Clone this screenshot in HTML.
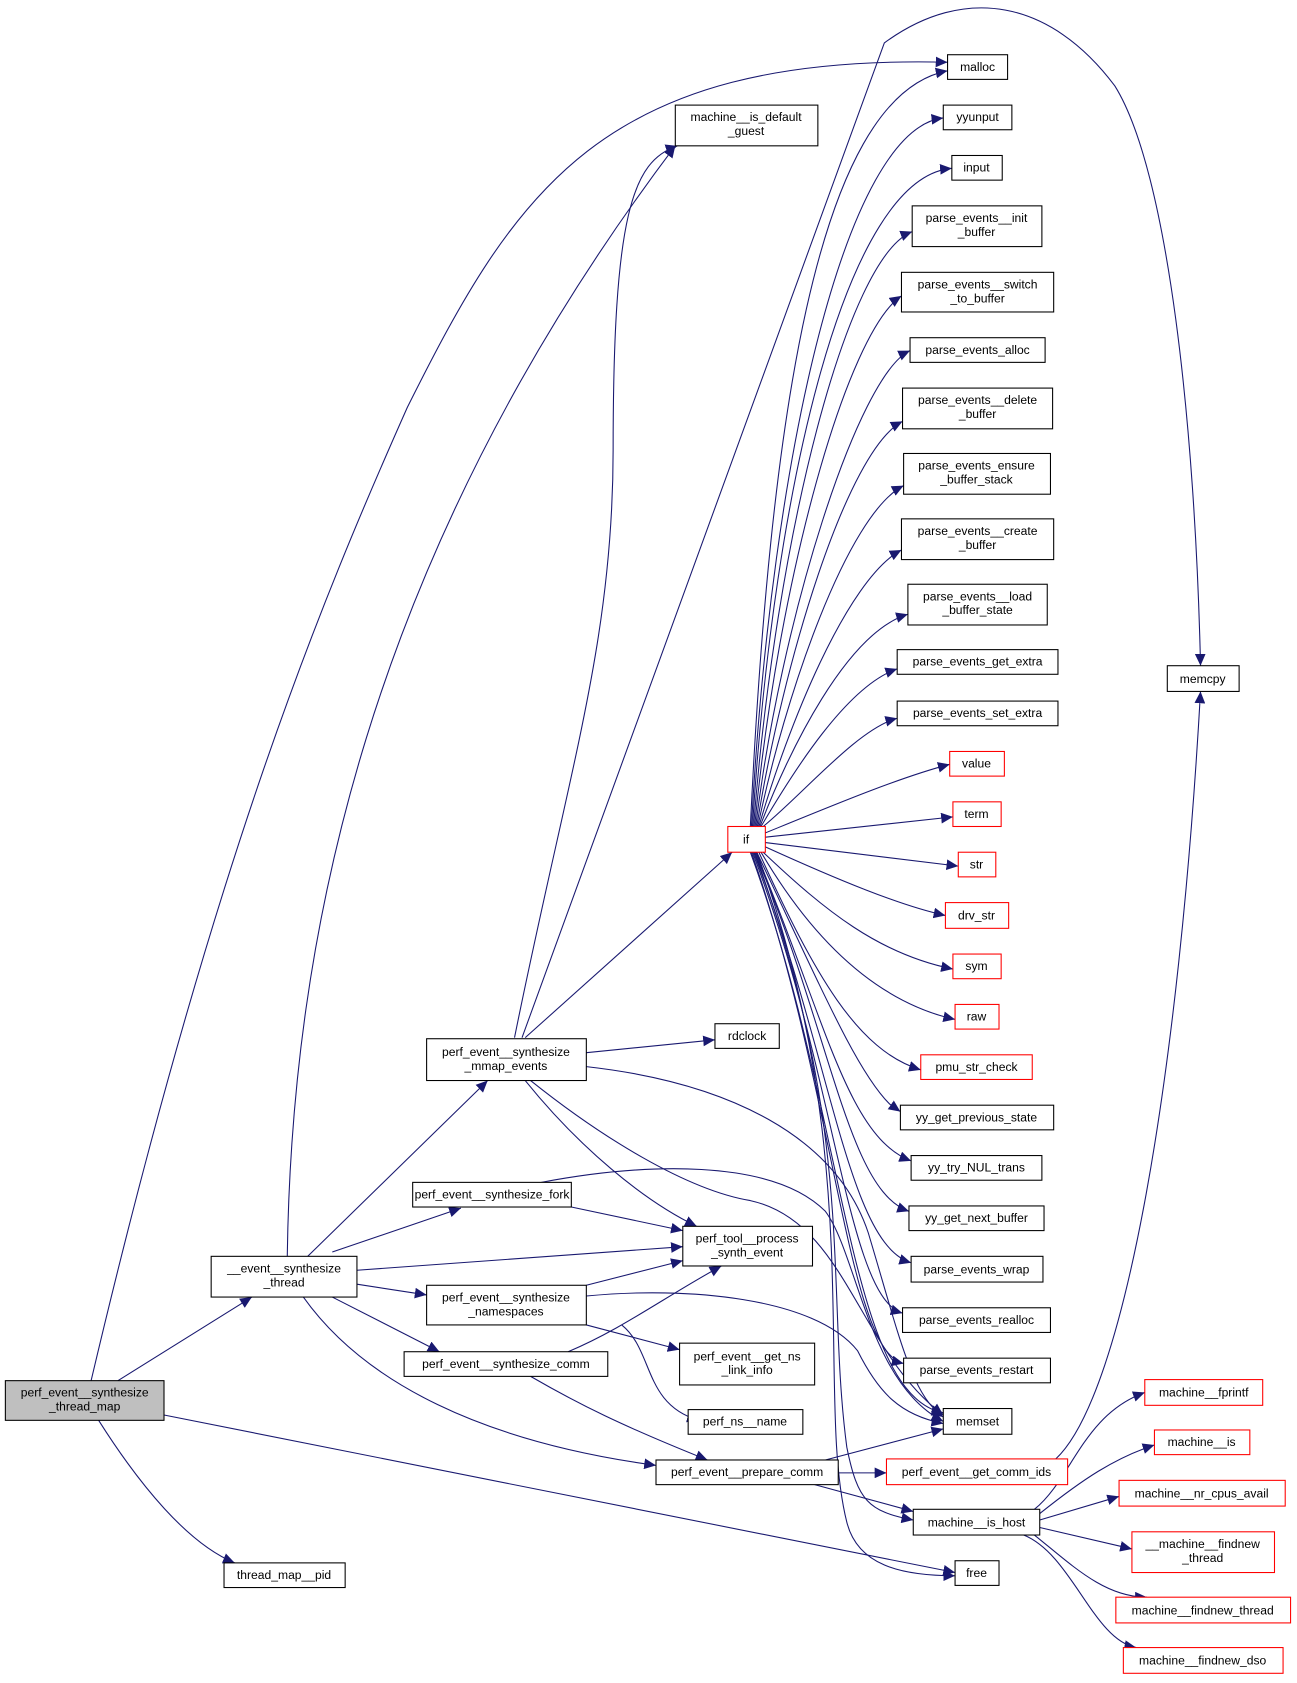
<!DOCTYPE html>
<html><head><meta charset="utf-8"><style>
html,body{margin:0;padding:0;background:#fff;}
svg{display:block;}
text{font-family:"Liberation Sans",Arial,sans-serif;font-size:11.3px;fill:#000;text-anchor:middle;}
.n{fill:#fff;stroke:#000;stroke-width:1;}
.r{fill:#fff;stroke:#ff0000;stroke-width:1;}
.g{fill:#bfbfbf;stroke:#000;stroke-width:1;}
.e{fill:none;stroke:#191970;stroke-width:1;marker-end:url(#a);}
</style></head><body>
<svg width="1297" height="1683" viewBox="0 0 1210 1570" xmlns="http://www.w3.org/2000/svg">
<defs><marker id="a" markerUnits="userSpaceOnUse" markerWidth="12" markerHeight="10" refX="11" refY="5" orient="auto"><path d="M0,0 L11,5 L0,10 Z" fill="#191970"/></marker></defs>

<!-- edges -->
<path class="e" d="M85,1288 C200,800 300,560 380,380 C480,180 560,50 884,58"/>
<path class="e" d="M110,1288 L235,1210"/>
<path class="e" d="M92,1325 C130,1385 175,1440 219,1458"/>
<path class="e" d="M153,1320 L891,1467"/>
<path class="e" d="M268,1172 C272,880 340,520 630,136"/>
<path class="e" d="M287,1172 L455,1008"/>
<path class="e" d="M310,1168 L430,1127"/>
<path class="e" d="M333,1185 L637,1163"/>
<path class="e" d="M333,1198 L398,1208"/>
<path class="e" d="M310,1210 L410,1261"/>
<path class="e" d="M283,1210 C340,1290 450,1345 612,1367"/>
<path class="e" d="M480,968 C530,720 572,600 572,420 C572,200 590,150 632,136"/>
<path class="e" d="M487,968 L825,40 C900,-15 980,0 1040,80 C1090,160 1115,400 1120,621"/>
<path class="e" d="M490,968 L683,795"/>
<path class="e" d="M547,982 L667,970"/>
<path class="e" d="M547,995 C680,1010 780,1060 810,1150 C840,1250 850,1300 880,1322"/>
<path class="e" d="M490,1008 C540,1070 600,1120 650,1144"/>
<path class="e" d="M495,1008 C560,1060 640,1110 700,1120 C790,1140 800,1260 880,1320"/>
<path class="e" d="M505,1103 C600,1085 720,1080 770,1130 C800,1170 810,1290 880,1326"/>
<path class="e" d="M533,1126 L637,1148"/>
<path class="e" d="M547,1209 C640,1200 760,1210 800,1260 C820,1300 840,1320 880,1328"/>
<path class="e" d="M547,1199 L637,1176"/>
<path class="e" d="M547,1236 L634,1259"/>
<path class="e" d="M580,1236 C610,1260 600,1310 652,1325"/>
<path class="e" d="M530,1261 C580,1240 620,1210 673,1181"/>
<path class="e" d="M495,1284 C540,1310 580,1330 660,1362"/>
<path class="e" d="M782,1374 L827,1374"/>
<path class="e" d="M770,1362 L880,1333"/>
<path class="e" d="M760,1385 L852,1410"/>
<path class="e" d="M985,1361 C1050,1300 1100,1000 1120,645"/>
<!-- machine__is_host fanout -->
<path class="e" d="M965,1408 C1000,1380 1010,1320 1068,1299"/>
<path class="e" d="M970,1412 C1010,1380 1040,1360 1077,1348"/>
<path class="e" d="M970,1418 L1044,1396"/>
<path class="e" d="M970,1425 L1056,1445"/>
<path class="e" d="M965,1432 C1000,1460 1030,1490 1070,1490"/>
<path class="e" d="M955,1432 C1000,1450 1020,1530 1060,1537"/>
<!-- if fan-out upward -->
<path class="e" d="M700,771 C718,400 760,90 884,66"/>
<path class="e" d="M701,771 C720,420 790,120 880,110"/>
<path class="e" d="M702,771 C722,450 790,165 888,157"/>
<path class="e" d="M703,771 C724,500 790,240 851,216"/>
<path class="e" d="M704,771 C726,540 790,310 841,276"/>
<path class="e" d="M705,771 C728,580 800,350 849,327"/>
<path class="e" d="M706,771 C730,620 790,420 842,393"/>
<path class="e" d="M707,771 C732,650 790,480 843,453"/>
<path class="e" d="M708,771 C734,680 790,540 841,513"/>
<path class="e" d="M709,771 C736,700 790,590 847,573"/>
<path class="e" d="M710,771 C740,720 790,640 837,624"/>
<path class="e" d="M712,771 C750,740 800,680 837,670"/>
<path class="e" d="M714,777 C780,750 840,725 886,713"/>
<path class="e" d="M714,781 L889,762"/>
<path class="e" d="M714,786 L894,808"/>
<path class="e" d="M714,790 C780,820 840,845 882,854"/>
<path class="e" d="M712,795 C770,850 820,890 889,904"/>
<path class="e" d="M710,795 C760,880 820,935 891,951"/>
<path class="e" d="M708,795 C760,910 800,980 859,998"/>
<path class="e" d="M706,795 C770,930 800,1000 830,1030 L840,1037"/>
<path class="e" d="M705,795 C770,950 790,1060 850,1083"/>
<path class="e" d="M704,795 C775,960 790,1110 848,1130"/>
<path class="e" d="M703,795 C775,980 790,1160 850,1178"/>
<path class="e" d="M702,795 C780,1000 790,1210 842,1225"/>
<path class="e" d="M701,795 C780,1020 790,1260 843,1272"/>
<path class="e" d="M700,795 C790,1040 790,1300 880,1318"/>
<path class="e" d="M704,795 C800,1060 770,1200 790,1350 C800,1400 810,1410 852,1418"/>
<path class="e" d="M706,795 C810,1080 760,1300 790,1420 C800,1460 840,1470 891,1470"/>

<!-- nodes -->
<rect class="g" x="5" y="1288" width="148" height="37"/><text x="79" y="1303">perf_event__synthesize</text><text x="79" y="1316">_thread_map</text>
<rect class="n" x="209" y="1458" width="113" height="23"/><text x="265" y="1473">thread_map__pid</text>
<rect class="n" x="197" y="1172" width="136" height="38"/><text x="265" y="1187">__event__synthesize</text><text x="265" y="1200">_thread</text>
<rect class="n" x="398" y="969" width="149" height="39"/><text x="472" y="985">perf_event__synthesize</text><text x="472" y="998">_mmap_events</text>
<rect class="n" x="385" y="1103" width="148" height="23"/><text x="459" y="1118">perf_event__synthesize_fork</text>
<rect class="n" x="398" y="1199" width="149" height="37"/><text x="472" y="1214">perf_event__synthesize</text><text x="472" y="1227">_namespaces</text>
<rect class="n" x="377" y="1261" width="190" height="23"/><text x="472" y="1276">perf_event__synthesize_comm</text>
<rect class="n" x="612" y="1362" width="170" height="23"/><text x="697" y="1377">perf_event__prepare_comm</text>
<rect class="n" x="637" y="1144" width="121" height="37"/><text x="697" y="1159">perf_tool__process</text><text x="697" y="1172">_synth_event</text>
<rect class="n" x="634" y="1253" width="126" height="39"/><text x="697" y="1269">perf_event__get_ns</text><text x="697" y="1282">_link_info</text>
<rect class="n" x="642" y="1315" width="107" height="23"/><text x="695" y="1330">perf_ns__name</text>
<rect class="n" x="667" y="955" width="60" height="23"/><text x="697" y="970">rdclock</text>
<rect class="n" x="630" y="98" width="133" height="38"/><text x="696" y="113">machine__is_default</text><text x="696" y="126">_guest</text>
<rect class="r" x="679" y="771" width="35" height="24"/><text x="696" y="787">if</text>
<rect class="n" x="884" y="51" width="56" height="23"/><text x="912" y="66">malloc</text>
<rect class="n" x="880" y="98" width="64" height="23"/><text x="912" y="113">yyunput</text>
<rect class="n" x="888" y="145" width="47" height="23"/><text x="911" y="160">input</text>
<rect class="n" x="851" y="192" width="121" height="38"/><text x="911" y="207">parse_events__init</text><text x="911" y="220">_buffer</text>
<rect class="n" x="841" y="254" width="142" height="37"/><text x="912" y="269">parse_events__switch</text><text x="912" y="282">_to_buffer</text>
<rect class="n" x="849" y="315" width="126" height="23"/><text x="912" y="330">parse_events_alloc</text>
<rect class="n" x="842" y="362" width="140" height="38"/><text x="912" y="377">parse_events__delete</text><text x="912" y="390">_buffer</text>
<rect class="n" x="843" y="423" width="137" height="38"/><text x="911" y="438">parse_events_ensure</text><text x="911" y="451">_buffer_stack</text>
<rect class="n" x="841" y="484" width="142" height="38"/><text x="912" y="499">parse_events__create</text><text x="912" y="512">_buffer</text>
<rect class="n" x="847" y="545" width="130" height="38"/><text x="912" y="560">parse_events__load</text><text x="912" y="573">_buffer_state</text>
<rect class="n" x="837" y="606" width="150" height="23"/><text x="912" y="621">parse_events_get_extra</text>
<rect class="n" x="837" y="654" width="150" height="23"/><text x="912" y="669">parse_events_set_extra</text>
<rect class="r" x="886" y="701" width="51" height="23"/><text x="911" y="716">value</text>
<rect class="r" x="889" y="748" width="45" height="23"/><text x="911" y="763">term</text>
<rect class="r" x="894" y="795" width="35" height="23"/><text x="911" y="810">str</text>
<rect class="r" x="882" y="842" width="59" height="24"/><text x="911" y="858">drv_str</text>
<rect class="r" x="889" y="890" width="45" height="23"/><text x="911" y="905">sym</text>
<rect class="r" x="891" y="937" width="41" height="23"/><text x="911" y="952">raw</text>
<rect class="r" x="859" y="984" width="104" height="23"/><text x="911" y="999">pmu_str_check</text>
<rect class="n" x="840" y="1031" width="143" height="23"/><text x="911" y="1046">yy_get_previous_state</text>
<rect class="n" x="850" y="1078" width="122" height="23"/><text x="911" y="1093">yy_try_NUL_trans</text>
<rect class="n" x="848" y="1125" width="126" height="23"/><text x="911" y="1140">yy_get_next_buffer</text>
<rect class="n" x="850" y="1172" width="123" height="24"/><text x="911" y="1188">parse_events_wrap</text>
<rect class="n" x="842" y="1220" width="138" height="23"/><text x="911" y="1235">parse_events_realloc</text>
<rect class="n" x="843" y="1267" width="137" height="23"/><text x="911" y="1282">parse_events_restart</text>
<rect class="n" x="880" y="1314" width="64" height="24"/><text x="912" y="1330">memset</text>
<rect class="r" x="827" y="1361" width="169" height="24"/><text x="911" y="1377">perf_event__get_comm_ids</text>
<rect class="n" x="852" y="1408" width="118" height="24"/><text x="911" y="1424">machine__is_host</text>
<rect class="n" x="891" y="1456" width="41" height="23"/><text x="911" y="1471">free</text>
<rect class="n" x="1089" y="621" width="67" height="24"/><text x="1122" y="637">memcpy</text>
<rect class="r" x="1068" y="1287" width="110" height="24"/><text x="1123" y="1303">machine__fprintf</text>
<rect class="r" x="1077" y="1334" width="89" height="23"/><text x="1121" y="1349">machine__is</text>
<rect class="r" x="1044" y="1381" width="155" height="24"/><text x="1121" y="1397">machine__nr_cpus_avail</text>
<rect class="r" x="1056" y="1429" width="133" height="38"/><text x="1122" y="1444">__machine__findnew</text><text x="1122" y="1457">_thread</text>
<rect class="r" x="1041" y="1490" width="163" height="24"/><text x="1122" y="1506">machine__findnew_thread</text>
<rect class="r" x="1048" y="1537" width="149" height="24"/><text x="1122" y="1553">machine__findnew_dso</text>
</svg>
</body></html>
